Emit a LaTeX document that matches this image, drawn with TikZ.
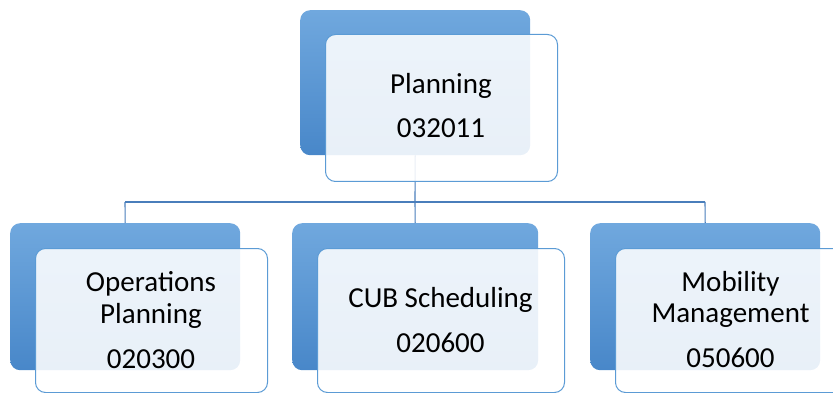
\documentclass[tikz,border=0pt]{standalone}
\usepackage{fontspec}
\setmainfont{Carlito}
\definecolor{boxtop}{HTML}{70A8DE}
\definecolor{boxbot}{HTML}{4887C9}
\definecolor{edgeblue}{HTML}{5B9BD5}
\definecolor{linkblue}{HTML}{4A7EBB}
\tikzset{
  backbox/.style={rectangle, rounded corners=10pt, top color=boxtop, bottom color=boxbot,
    draw=none, inner sep=0pt, anchor=north west},
  frontbox/.style={rectangle, rounded corners=10pt, fill=white, fill opacity=0.88,
    draw=edgeblue, line width=1pt, inner sep=0pt, anchor=north west},
  label/.style={anchor=base, inner sep=0pt, text=black,
    font=\fontsize{29}{32}\selectfont},
  link/.style={draw=linkblue, line width=1.1pt}
}
\begin{document}
\begin{tikzpicture}[x=1pt, y=-1pt]
\useasboundingbox (0,0) rectangle (833,393);

% coloured back panels
\node[backbox, minimum width=230pt, minimum height=145pt] (b0) at (300,10) {};
\node[backbox, minimum width=230pt, minimum height=147pt] (b1) at (10,223) {};
\node[backbox, minimum width=246pt, minimum height=147pt] (b2) at (292,223) {};
\node[backbox, minimum width=230pt, minimum height=147pt] (b3) at (590,223) {};

% hierarchy connectors
\coordinate (hub) at (415,202);
\coordinate (hl) at (125,202);
\coordinate (hr) at (705,202);
\draw[link] (b0.south) -- (hub);
\draw[link] (hl) -- (hr);
\draw[link] (hl) -- (b1.north);
\draw[link] (hub) -- (b2.north);
\draw[link] (hr) -- (b3.north);

% translucent front cards
\node[frontbox, minimum width=232pt, minimum height=147pt] (f0) at (325,34) {};
\node[frontbox, minimum width=232pt, minimum height=144pt] (f1) at (35,248) {};
\node[frontbox, minimum width=247pt, minimum height=144pt] (f2) at (317,248) {};
\node[frontbox, minimum width=231pt, minimum height=144pt] (f3) at (615,248) {};

% card texts
\node[label] (t0a) at (441,94) {Planning};
\node[label] (t0b) at (441,138) {032011};

\node[label] (t1a) at (151,291) {Operations};
\node[label] (t1b) at (151,323) {Planning};
\node[label] (t1c) at (151,368) {020300};

\node[label] (t2a) at (440.5,307) {CUB Scheduling};
\node[label] (t2b) at (440.5,352) {020600};

\node[label] (t3a) at (730.5,291.5) {Mobility};
\node[label] (t3b) at (730.5,322) {Management};
\node[label] (t3c) at (730.5,367) {050600};
\end{tikzpicture}
\end{document}
